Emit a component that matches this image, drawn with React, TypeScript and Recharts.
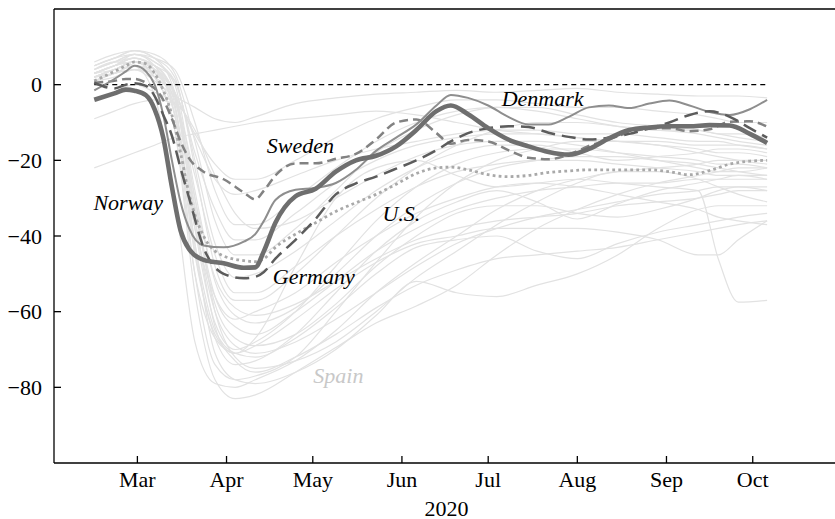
import React from 'react';
import { LineChart, Line, XAxis, YAxis, ReferenceLine, ReferenceDot } from 'recharts';

const FONT = '"Liberation Serif", "Times New Roman", Times, serif';

// ---- highlighted series (day of year 2020) ----
const days = [46, 53, 57, 60, 64, 67, 70, 73, 76, 79, 84, 91, 98, 102, 105, 109, 116, 123, 130, 137, 144, 151, 158, 165, 170, 176, 183, 190, 197, 204, 211, 218, 225, 232, 239, 246, 253, 260, 267, 274, 280];
const norway = [-4, -2.3, -1.3, -1.6, -2.8, -6.5, -14, -27, -38.5, -43.5, -46.3, -47.2, -48.4, -48.3, -44, -36.5, -29.5, -27.5, -23, -20, -18.8, -16.3, -12, -7, -5.5, -7.8, -11.5, -14.5, -16.3, -17.8, -18.5, -17, -14.2, -12, -11.3, -11, -11, -10.7, -10.8, -13, -15.4];
const denmark = [-1.5, 1.5, 3.5, 5, 3.5, 0, -8, -20, -31, -38, -42.5, -43, -41.5, -39.5, -36, -30.5, -27.8, -27.3, -26, -22.5, -17.5, -14, -10.5, -5.5, -2.7, -3.5, -5.5, -8.5, -10.5, -10.5, -8.5, -6, -5.5, -6.2, -5, -4.2, -5.5, -7.2, -8, -6.5, -4];
const sweden = [0.5, 1, 1.5, 1.5, 0.5, -1, -4, -9, -15, -19.5, -23, -25, -28.5, -30.3, -28, -24, -20.8, -20.8, -19.6, -18.3, -14.5, -10, -9.2, -12.8, -15.6, -14.6, -15, -17.3, -19.3, -19.7, -18.5, -16.2, -14.5, -12.6, -11.6, -11.5, -12.3, -11.8, -9.8, -9.7, -11.1];
const germany = [0.5, -1, 0, 0.4, -0.3, -3, -8, -13.5, -22, -30, -43, -50, -51.2, -50.8, -49.5, -46, -41, -35.5, -29, -26.1, -24.3, -22.2, -20, -17.3, -15, -12.8, -11.5, -11, -11.2, -12.7, -13.8, -14.5, -14, -13, -11.6, -10, -8, -7, -8.5, -11.5, -14];
const us = [1, 3.5, 5, 6, 5.5, 3, -1.5, -8, -18, -29, -40, -45.3, -46.5, -46.8, -46, -43, -39.5, -36.5, -33.5, -31.2, -29, -26.3, -23.5, -22, -21.8, -22.5, -23.8, -24.3, -24, -23.2, -22.8, -22.5, -22.5, -22.5, -22.5, -23, -23.8, -22.7, -21, -20.2, -20];

// ---- background countries ----
const bgDays = [46, 53, 60, 67, 74, 81, 88, 95, 102, 116, 130, 144, 158, 172, 186, 200, 214, 228, 242, 256, 263, 270, 280];
const bg1 = [3, 5, 6, 2, -12, -55, -78, -83, -82, -76, -69.5, -63, -58.5, -53, -45, -38, -33, -29, -26, -24, -23, -22, -22];
const bg2 = [4, 6, 5, -3, -30, -68, -79, -80, -78, -73, -65, -55, -47, -40, -33, -28, -25, -23, -22, -21, -20, -20, -20];
const bg3 = [5, 7, 8, 5, -8, -50, -74, -78, -77, -72, -60, -47, -35, -26, -20, -17, -15, -15, -16, -18, -19, -20, -21];
const bg4 = [3, 5, 7, 5, -3, -30, -60, -72, -75, -73, -68, -60, -51, -44, -37, -31, -26, -23, -23, -25, -27, -29, -31];
const bg5 = [2, 4, 6, 5, -5, -42, -71, -78, -79, -76, -70, -61, -52, -55, -56, -53, -50, -45, -38, -33, -32, -32, -32];
const bg6 = [1, 3, 4, 3, -2, -35, -64, -73, -76, -72, -66, -59, -53, -49, -46, -45, -44, -43, -41, -39, -38, -37, -36];
const bg7 = [2, 4, 5, 3, -6, -42, -65, -71, -72, -67, -59, -50, -43, -41, -40, -44, -46, -42, -39, -37, -36, -35, -34];
const bg8 = [3, 5, 7, 4, -8, -45, -66, -71, -69, -62, -54, -47, -42, -40, -38, -38, -38, -39, -41, -45, -45, -41, -36];
const bg9 = [2, 4, 6, 2, -12, -50, -67, -71, -67, -48, -30, -22, -20, -24, -27, -26, -25, -26, -27, -28, -46, -57.5, -57];
const bg10 = [4, 6, 8, 6, 0, -28, -52, -61, -63, -59, -50, -40, -32, -26, -22, -20, -19, -19, -20, -21, -22, -23, -24];
const bg11 = [5, 7, 9, 7, 2, -22, -48, -57, -57, -50, -40, -30, -22, -16, -12, -10, -10, -11, -12, -13, -14, -15, -16];
const bg12 = [3, 5, 6, 4, -3, -32, -56, -64, -66, -60, -52, -44, -38, -33, -30, -28, -27, -26, -26, -25, -25, -25, -25];
const bg13 = [2, 3, 5, 2, -8, -38, -56, -62, -60, -55, -47, -40, -34, -30, -27, -26, -27, -29, -31, -33, -35, -36, -37];
const bg14 = [1, 3, 5, 4, -2, -30, -51, -59, -61, -58, -52, -46, -41, -38, -36, -35, -34, -32, -31, -30, -29, -28, -28];
const bg15 = [4, 6, 7, 5, 1, -20, -42, -51, -50, -44, -36, -28, -22, -18, -16, -16, -18, -20, -19, -18, -17, -17, -18];
const bg16 = [3, 4, 6, 3, -4, -33, -58, -67, -69, -66, -58, -48, -40, -34, -32, -32, -34, -35, -33, -30, -28, -27, -27];
const bg17 = [5, 7, 9, 8, 3, -15, -36, -45, -45, -38, -28, -18, -12, -8, -6, -6, -8, -10, -11, -12, -13, -14, -15];
const bg18 = [3, 5, 7, 4, -6, -44, -67, -74, -73, -66, -55, -44, -36, -31, -28, -31, -35.5, -31.5, -28, -26, -25, -24, -24];
const bg19 = [2, 3, 4, 1, -3, -6, -9, -10, -8.5, -5, -3.5, -2.5, -2, -1.5, -2, -1.5, -1, -2, -2.5, -3, -3, -3, -3.5];
const bg20 = [-22, -20, -18, -16, -14, -13, -12, -11, -10, -9, -8, -7, -8, -10, -12, -13, -14, -15, -15, -16, -16, -16, -17];
const bg21 = [-9, -7, -5, -4, -5, -12, -24, -34, -38, -36, -30, -24, -19, -16, -15, -15, -16, -18, -20, -22, -23, -23, -22];
const bg22 = [1, 2, 4, 2, -3, -13, -21, -25, -25, -20, -14, -9, -6, -4, -4, -5, -6, -6, -7, -8, -9, -10, -10];
const bg23 = [2, 4, 6, 4, -2, -14, -25, -29, -28, -24, -20, -17, -15, -13, -12, -12, -13, -13, -14, -15, -15, -16, -17];
const bg24 = [4, 6, 8, 6, 1, -18, -33, -41, -41, -34, -26, -20, -16, -14, -13, -13, -14, -15, -16, -17, -18, -18, -19];
const bg25 = [3, 5, 8, 7, 4, -10, -28, -37, -37, -30, -22, -15, -10, -7, -6, -7, -9, -11, -12, -12, -13, -13, -14];
const bg26 = [2, 4, 6, 5, -3, -36, -60, -69, -71, -68, -62, -55, -48, -42, -38, -35, -33, -31, -29, -28, -27, -27, -28];
const bg27 = [-4, -2, 0, -2, -5, -24, -45, -55, -55, -48, -40, -33, -27, -23, -21, -20, -20, -21, -22, -23, -24, -24, -25];
const bg28 = [6, 8, 9, 7, -2, -38, -63, -70, -68, -60, -48, -36, -27, -21, -18, -17, -17, -18, -19, -20, -21, -21, -22];
const background = [bg1, bg2, bg3, bg4, bg5, bg6, bg7, bg8, bg9, bg10, bg11, bg12, bg13, bg14, bg15, bg16, bg17, bg18, bg19, bg20, bg21, bg22, bg23, bg24, bg25, bg26, bg27, bg28];

// ---- axes ----
const monthTicks = [61, 92, 122, 153, 183, 214, 245, 275];
const monthLabels = ['Mar', 'Apr', 'May', 'Jun', 'Jul', 'Aug', 'Sep', 'Oct'];
const yTicks = [-80, -60, -40, -20, 0];
const xTitle = '2020';

// ---- annotations ----
const annotations = [
  { name: 'Norway', day: 45.7, value: -33, muted: false },
  { name: 'Sweden', day: 106, value: -18, muted: false },
  { name: 'U.S.', day: 146.2, value: -36, muted: false },
  { name: 'Germany', day: 108.1, value: -52.7, muted: false },
  { name: 'Denmark', day: 187.7, value: -5.7, muted: false },
  { name: 'Spain', day: 122.2, value: -78.9, muted: true },
];

const hiData = days.map((d, i) => ({
  day: d,
  norway: norway[i],
  denmark: denmark[i],
  sweden: sweden[i],
  germany: germany[i],
  us: us[i],
}));

const bgData = bgDays.map((d, i) => {
  const row: Record<string, number> = { day: d };
  background.forEach((s, j) => {
    row['bg' + j] = s[i];
  });
  return row;
});

const fmtMonth = (v: number) => {
  const i = monthTicks.indexOf(v);
  return i >= 0 ? monthLabels[i] : '';
};
const fmtY = (v: number) => (v < 0 ? '\u2212' + Math.abs(v) : String(v));

export default function App() {
  return (
    <div style={{ position: 'absolute', left: 0, top: 0, width: 835, height: 519, overflow: 'hidden', background: '#fff' }}>
      <LineChart width={840} height={519} margin={{ top: 9, right: 1, bottom: 0, left: 0 }}>
        <XAxis
          dataKey="day"
          type="number"
          domain={[32, 305]}
          allowDataOverflow
          ticks={monthTicks}
          tickFormatter={fmtMonth}
          tickSize={-7}
          tickMargin={15}
          height={56}
          axisLine={{ stroke: '#000', strokeWidth: 1.3 }}
          tickLine={{ stroke: '#000', strokeWidth: 1.3 }}
          tick={{ fill: '#000', fontSize: 22, fontFamily: FONT }}
          label={{ value: xTitle, position: 'insideBottom', offset: 3, fill: '#000', fontSize: 22, fontFamily: FONT }}
        />
        <YAxis
          type="number"
          domain={[-100, 20]}
          allowDataOverflow
          ticks={yTicks}
          tickFormatter={fmtY}
          width={54}
          tickSize={-7}
          tickMargin={19}
          axisLine={{ stroke: '#000', strokeWidth: 1.3 }}
          tickLine={{ stroke: '#000', strokeWidth: 1.3 }}
          tick={{ fill: '#000', fontSize: 22, fontFamily: FONT }}
        />
        <ReferenceLine y={20} stroke="#000" strokeWidth={1.5} />
        {background.map((_, j) => (
          <Line
            key={'bg' + j}
            data={bgData}
            dataKey={'bg' + j}
            type="monotone"
            stroke="#e2e2e2"
            strokeWidth={1.2}
            dot={false}
            activeDot={false}
            isAnimationActive={false}
          />
        ))}
        <ReferenceLine
          segment={[{ x: days[0], y: 0 }, { x: days[days.length - 1], y: 0 }]}
          stroke="#000"
          strokeWidth={1.2}
          strokeDasharray="5 4"
        />
        <Line data={hiData} dataKey="us" type="monotone" stroke="#a9a9a9" strokeWidth={2.8} strokeDasharray="2.8 3.2" dot={false} activeDot={false} isAnimationActive={false} />
        <Line data={hiData} dataKey="sweden" type="monotone" stroke="#828282" strokeWidth={2.5} strokeDasharray="9 5" dot={false} activeDot={false} isAnimationActive={false} />
        <Line data={hiData} dataKey="denmark" type="monotone" stroke="#8e8e8e" strokeWidth={2} dot={false} activeDot={false} isAnimationActive={false} />
        <Line data={hiData} dataKey="germany" type="monotone" stroke="#5c5c5c" strokeWidth={2.5} strokeDasharray="14 7" dot={false} activeDot={false} isAnimationActive={false} />
        <Line data={hiData} dataKey="norway" type="monotone" stroke="#6e6e6e" strokeWidth={4.6} dot={false} activeDot={false} isAnimationActive={false} />
        {annotations.map((a) => (
          <ReferenceDot
            key={a.name}
            x={a.day}
            y={a.value}
            r={0}
            ifOverflow="visible"
            shape={(p: any) => (
              <text
                x={p.cx}
                y={p.cy}
                fontFamily={FONT}
                fontStyle="italic"
                fontSize={22}
                fill={a.muted ? '#c8c8c8' : '#000'}
              >
                {a.name}
              </text>
            )}
          />
        ))}
      </LineChart>
    </div>
  );
}
